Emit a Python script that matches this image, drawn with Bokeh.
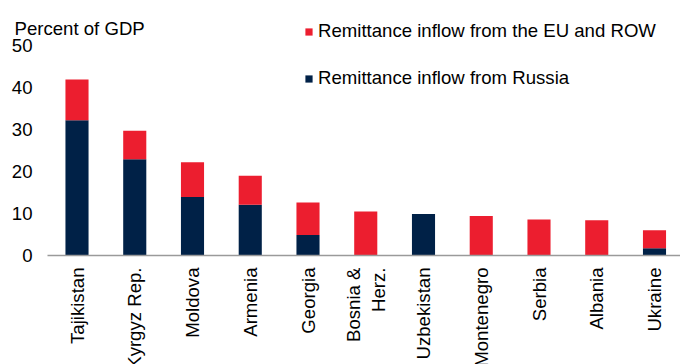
import math
from bokeh.plotting import figure
from bokeh.models import ColumnDataSource, Range1d, Legend, LegendItem
from bokeh.core.properties import value
from bokeh.embed import file_html
from bokeh.resources import INLINE

categories = ["Tajikistan", "Kyrgyz Rep.", "Moldova", "Armenia", "Georgia",
              "Bosnia &\nHerz.", "Uzbekistan", "Montenegro", "Serbia", "Albania", "Ukraine"]
russia = [32.2, 22.9, 13.9, 12.1, 4.9, 0.0, 9.9, 0.0, 0.0, 0.0, 1.7]
eu_row = [9.7, 6.8, 8.3, 6.9, 7.7, 10.5, 0.0, 9.4, 8.6, 8.4, 4.3]
y_ticks = [0, 10, 20, 30, 40, 50]
y_title = "Percent of GDP"
series_names = ["Remittance inflow from the EU and ROW", "Remittance inflow from Russia"]

NAVY = "#002147"
RED = "#EC1E2F"
FONT = value("Liberation Sans")
FS = value("18.6px")

# layout (pixels): canvas offset on page, category spacing, y scale
W, H = 680, 364
OX, OY = 0, 0
PX = 57.75          # px per category
PY = 4.2            # px per percentage point
X0, Y0 = 76.5, 255  # page position of first category centre / zero line

def xd(page_x):
    return (page_x - X0) / PX

def yd(page_y):
    return (Y0 - page_y) / PY

xs = list(range(len(categories)))
source = ColumnDataSource(dict(x=xs, cat=categories, russia=russia, eu=eu_row,
                               base=[0] * len(categories)))

p = figure(width=W, height=H, output_backend="svg", toolbar_location=None,
           x_range=Range1d(xd(OX), xd(OX + W)), y_range=Range1d(yd(OY + H), yd(OY)),
           x_axis_location=None, y_axis_location=None,
           min_border=0)
p.outline_line_color = None
p.background_fill_color = "white"
p.border_fill_color = "white"
p.grid.visible = False

rs = p.vbar_stack(["russia", "eu"], x="x", width=0.4, color=[NAVY, RED],
                  line_color=None, source=source)

# zero line (category axis)
p.segment(x0=[xd(47)], y0=[0], x1=[xd(OX + W)], y1=[0], line_color="#9a9a9a", line_width=1.5)

# category labels, vertical reading upward
p.text(x="x", y="base", text="cat", source=source, angle=math.pi / 2,
       text_align="right", text_baseline="middle", y_offset=12,
       text_font=FONT, text_font_size=FS, text_color="black")

# value axis labels
p.text(x=[xd(32)] * len(y_ticks), y=y_ticks, text=[str(t) for t in y_ticks],
       text_align="right", text_baseline="middle",
       text_font=FONT, text_font_size=value("18.6px"), text_color="black")

# unit label
p.text(x=[xd(14)], y=[yd(28)], text=[y_title], text_align="left", text_baseline="alphabetic",
       text_font=FONT, text_font_size=FS, text_color="black")

legend = Legend(items=[LegendItem(label=series_names[0], renderers=[rs[1]]),
                       LegendItem(label=series_names[1], renderers=[rs[0]])],
                location=(304, H - 89), orientation="vertical",
                glyph_width=9, glyph_height=9, label_height=22, spacing=25,
                label_standoff=5, padding=0, margin=0,
                border_line_color=None, background_fill_alpha=0,
                label_text_font="Liberation Sans", label_text_font_size="18.6px",
                label_text_color="black")
p.add_layout(legend, "center")

open("out.html", "w").write(file_html(p, INLINE))
